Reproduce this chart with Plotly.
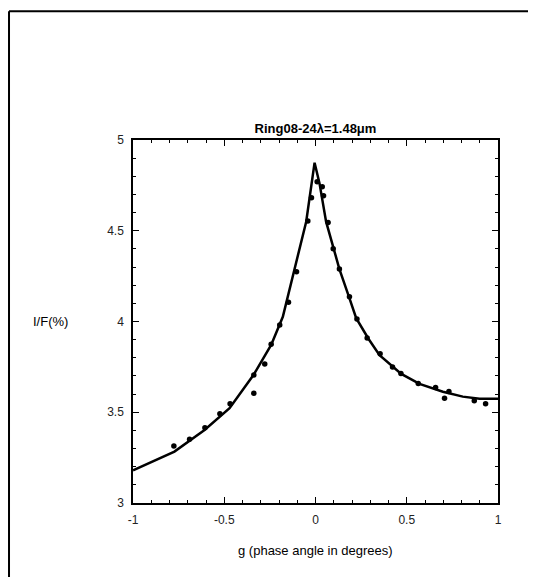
import plotly.graph_objects as go

# observed I/F points
obs_g = [-0.776, -0.690, -0.606, -0.524, -0.468, -0.338, -0.338, -0.278, -0.243,
         -0.196, -0.148, -0.104, -0.042, -0.022, 0.009, 0.037, 0.044, 0.069,
         0.097, 0.131, 0.186, 0.227, 0.283, 0.354, 0.422, 0.468, 0.563, 0.658,
         0.707, 0.731, 0.870, 0.932]
obs_if = [3.314, 3.351, 3.415, 3.492, 3.547, 3.604, 3.705, 3.766, 3.874,
          3.981, 4.106, 4.274, 4.554, 4.682, 4.770, 4.743, 4.693, 4.546,
          4.401, 4.289, 4.137, 4.014, 3.909, 3.823, 3.749, 3.714, 3.659, 3.637,
          3.577, 3.615, 3.564, 3.547]

# model curve
fit_g = [-1.0, -0.773, -0.608, -0.471, -0.340, -0.243, -0.179, -0.128, -0.088,
         -0.051, -0.005, 0.022, 0.058, 0.095, 0.131, 0.183, 0.223, 0.290, 0.351,
         0.470, 0.570, 0.698, 0.807, 0.899, 1.0]
fit_if = [3.18, 3.283, 3.402, 3.522, 3.705, 3.871, 4.026, 4.229, 4.394,
          4.55, 4.875, 4.761, 4.55, 4.412, 4.289, 4.137, 4.018, 3.905, 3.815,
          3.711, 3.656, 3.613, 3.586, 3.575, 3.575]

x_ticks = [-1, -0.5, 0, 0.5, 1]
y_ticks = [3, 3.5, 4, 4.5, 5]

fig = go.Figure()
fig.add_trace(go.Scatter(x=fit_g, y=fit_if, mode="lines",
                         line=dict(color="black", width=2.5), showlegend=False))
fig.add_trace(go.Scatter(x=obs_g, y=obs_if, mode="markers",
                         marker=dict(color="black", size=5.5), showlegend=False))

axis_common = dict(
    showgrid=False, zeroline=False, showline=True, linecolor="black", linewidth=1.5,
    mirror="allticks", ticks="inside", ticklen=6, tickcolor="black", tickwidth=1,
    tickfont=dict(family="Liberation Sans, Arial", size=12, color="#222"),
    ticklabelstandoff=5,
    minor=dict(ticks="inside", ticklen=3, tickcolor="black", dtick=0.1, showgrid=False),
)

fig.update_layout(
    width=536, height=577,
    margin=dict(l=125, r=46, t=132, b=82),
    paper_bgcolor="white", plot_bgcolor="white",
    font=dict(family="Liberation Sans, Arial", color="black"),
    title=dict(text="<b>Ring08-24λ=1.48μm</b>", x=0.5, xref="paper", xanchor="center",
               y=1.0, yref="paper", yanchor="bottom", pad=dict(b=7),
               font=dict(size=13)),
    xaxis=dict(range=[-1, 1], tickvals=x_ticks, ticktext=[f"{v:g}" for v in x_ticks],
               **axis_common),
    yaxis=dict(range=[3, 5], tickvals=y_ticks, ticktext=[f"{v:g}" for v in y_ticks],
               **axis_common),
    annotations=[
        dict(text="I/F(%)", xref="paper", yref="paper", x=-0.225, y=0.5,
             showarrow=False, font=dict(size=13), xanchor="center"),
        dict(text="g (phase angle in degrees)", xref="paper", yref="paper",
             x=0.5, y=-0.13, showarrow=False, font=dict(size=13), yanchor="middle"),
    ],
    shapes=[
        dict(type="line", xref="paper", yref="paper", x0=-0.3397, x1=1.2,
             y0=1.355, y1=1.355, line=dict(color="black", width=2)),
        dict(type="line", xref="paper", yref="paper", x0=-0.3397, x1=-0.3397,
             y0=1.355, y1=-0.3, line=dict(color="black", width=2)),
    ],
)

fig.write_html("out.html")
